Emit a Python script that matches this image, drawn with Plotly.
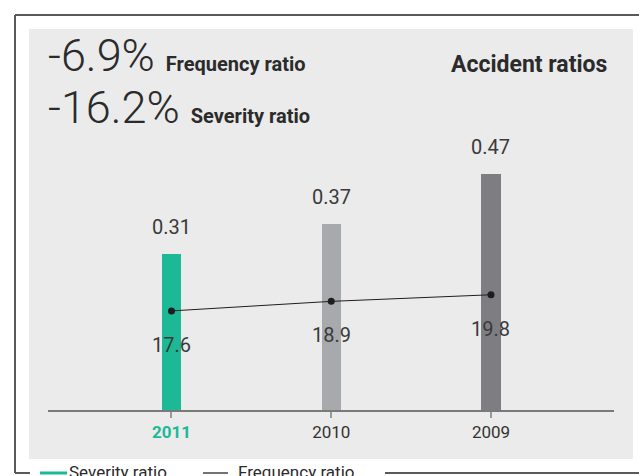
import plotly.graph_objects as go

# Accident ratios by year
years = ["2011", "2010", "2009"]
severity = [0.31, 0.37, 0.47]
frequency = [17.6, 18.9, 19.8]
bar_colors = ["#1DB996", "#A8A9AC", "#7E7D82"]
tick_labels = [
    "<b><span style='color:#1DB996'>2011</span></b>",
    "2010",
    "2009",
]

W, H = 639, 476
FONT = "Roboto, Arial, sans-serif"
TXT = "#2b2b2b"


def px(x):
    return x / W


def py(y):
    return 1 - y / H


fig = go.Figure()

fig.add_trace(go.Bar(
    x=years, y=severity, marker=dict(color=bar_colors, line=dict(width=0)),
    width=0.12, showlegend=False, hoverinfo="skip",
))

fig.add_trace(go.Scatter(
    x=years, y=frequency, yaxis="y2", mode="lines+markers",
    line=dict(color="#1e1e1e", width=1),
    marker=dict(color="#1e1e1e", size=7),
    showlegend=False, hoverinfo="skip",
))

annotations = []
# value labels above bars
for i, v in enumerate(severity):
    annotations.append(dict(
        x=i, y=v, xref="x", yref="y", text=f"{v:.2f}", showarrow=False,
        yanchor="middle", yshift=27, font=dict(family=FONT, size=20, color="#3a3a3a"),
    ))
# value labels below line points
for i, v in enumerate(frequency):
    annotations.append(dict(
        x=i, y=v, xref="x", yref="y2", text=f"{v:.1f}", showarrow=False,
        yanchor="middle", yshift=-34, font=dict(family=FONT, size=20, color="#3a3a3a"),
    ))

# headline figures
annotations.append(dict(
    x=px(46), y=py(55), xref="paper", yref="paper", xanchor="left", yanchor="middle",
    text="-6.9% <span style='font-size:20px;font-weight:700'>Frequency ratio</span>",
    showarrow=False, font=dict(family=FONT, size=45, color=TXT, weight=300),
))
annotations.append(dict(
    x=px(46), y=py(108), xref="paper", yref="paper", xanchor="left", yanchor="middle",
    text="-16.2% <span style='font-size:20px;font-weight:700'>Severity ratio</span>",
    showarrow=False, font=dict(family=FONT, size=45, color=TXT, weight=300),
))
annotations.append(dict(
    x=px(609), y=py(65), xref="paper", yref="paper", xanchor="right", yanchor="middle",
    text="<b>Accident ratios</b>", showarrow=False,
    font=dict(family=FONT, size=23, color=TXT),
))

# legend text
annotations.append(dict(
    x=px(67), y=py(472), xref="paper", yref="paper", xanchor="left", yanchor="middle",
    text="Severity ratio", showarrow=False, font=dict(family=FONT, size=17, color=TXT),
))
annotations.append(dict(
    x=px(236), y=py(472), xref="paper", yref="paper", xanchor="left", yanchor="middle",
    text="Frequency ratio", showarrow=False, font=dict(family=FONT, size=17, color=TXT),
))

frame = "#5a5a5a"
shapes = [
    # grey panel
    dict(type="rect", xref="paper", yref="paper", x0=px(29), x1=px(633), y0=py(459), y1=py(29),
         fillcolor="#EAEBEA", line=dict(width=0), layer="below"),
    # outer frame
    dict(type="line", xref="paper", yref="paper", x0=px(15), x1=px(15), y0=py(473), y1=py(15),
         line=dict(color=frame, width=2)),
    dict(type="line", xref="paper", yref="paper", x0=px(15), x1=px(639), y0=py(15), y1=py(15),
         line=dict(color=frame, width=2)),
    dict(type="line", xref="paper", yref="paper", x0=px(15), x1=px(30), y0=py(473), y1=py(473),
         line=dict(color=frame, width=2)),
    dict(type="line", xref="paper", yref="paper", x0=px(385), x1=px(639), y0=py(473), y1=py(473),
         line=dict(color=frame, width=2)),
    # legend keys
    dict(type="line", xref="paper", yref="paper", x0=px(40), x1=px(67), y0=py(473), y1=py(473),
         line=dict(color="#1DB996", width=3)),
    dict(type="line", xref="paper", yref="paper", x0=px(203), x1=px(228), y0=py(473), y1=py(473),
         line=dict(color="#444444", width=1.5)),
]

hidden = dict(showticklabels=False, showline=False, ticks="", showgrid=False,
              zeroline=False, fixedrange=True)

fig.update_layout(
    width=W, height=H,
    margin=dict(l=0, r=0, t=0, b=0),
    paper_bgcolor="white", plot_bgcolor="rgba(0,0,0,0)",
    showlegend=False,
    bargap=0,
    xaxis=dict(
        domain=[px(48), px(614)], type="category", range=[-0.773, 2.77],
        tickvals=years, ticktext=tick_labels,
        showline=True, linecolor="#7a7a7a", linewidth=2,
        ticks="outside", ticklen=6, tickwidth=1.5, tickcolor="#9a9a9a",
        tickfont=dict(family=FONT, size=17, color="#333333"),
        showgrid=False, zeroline=False, fixedrange=True,
    ),
    yaxis=dict(domain=[py(410), 1], range=[0, 410 / 503], **hidden),
    yaxis2=dict(domain=[py(410), 1], overlaying="y", range=[4.10, 59.96], **hidden),
    annotations=annotations,
    shapes=shapes,
)

fig.write_html("out.html")
